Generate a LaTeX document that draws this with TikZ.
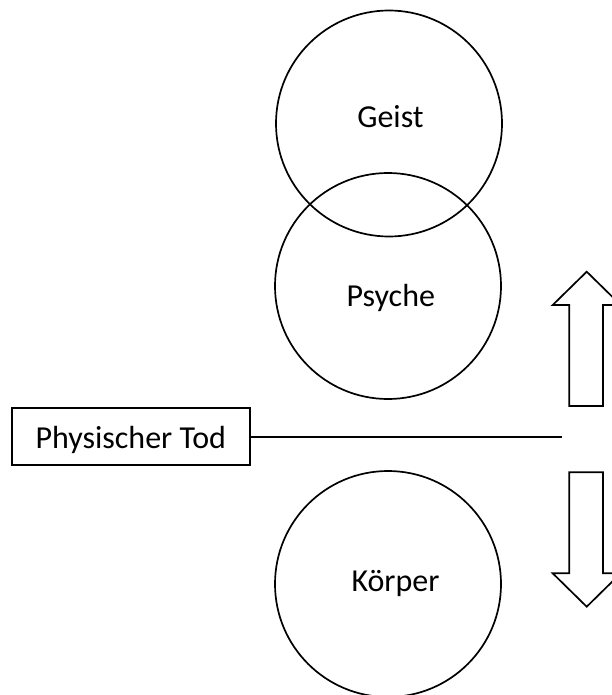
\documentclass[tikz,border=0pt]{standalone}
\usepackage{fontspec}
\setmainfont{Carlito}
\begin{document}
\begin{tikzpicture}[x=1pt,y=-1pt,line join=miter,
  ring/.style={draw,circle,line width=1.7pt,minimum size=226pt,inner sep=0pt},
  lbl/.style={font=\fontsize{32}{37}\selectfont,anchor=base,inner sep=0pt},
  boxnode/.style={draw,line width=1.6pt,minimum width=238pt,minimum height=57pt,inner sep=0pt,
    font=\fontsize{32}{37}\selectfont,text height=23pt,text depth=0pt},
  bigarrow/.style={draw,line width=1.7pt}]
\path[use as bounding box] (0,0) rectangle (612,695);
\clip (0,0) rectangle (612,695);
% circles
\node[ring] (geist) at (389,123.5) {};
\node[ring] (psyche) at (388,286) {};
\node[ring] (koerper) at (388,584) {};
% labels
\node[lbl] (tg) at (390.5,128) {Geist};
\node[lbl] (tp) at (390.8,306.7) {Psyche};
\node[lbl] (tk) at (395.5,591.7) {Körper};
% box and line
\node[boxnode] (tod) at (130.8,436.7) {Physischer Tod};
\coordinate (lineend) at (561.7,436.7);
\draw[line width=1.7pt] (tod.east) -- (lineend);
% up arrow
\draw[bigarrow] (586.7,271.7) -- (620.7,305) -- (603,305) -- (603,406) -- (569.3,406)
  -- (569.3,305) -- (552.7,305) -- cycle;
% down arrow
\draw[bigarrow] (569.3,472.3) -- (603,472.3) -- (603,573.3) -- (620.7,573.3) -- (586.7,606.7)
  -- (552.7,573.3) -- (569.3,573.3) -- cycle;
\end{tikzpicture}
\end{document}
